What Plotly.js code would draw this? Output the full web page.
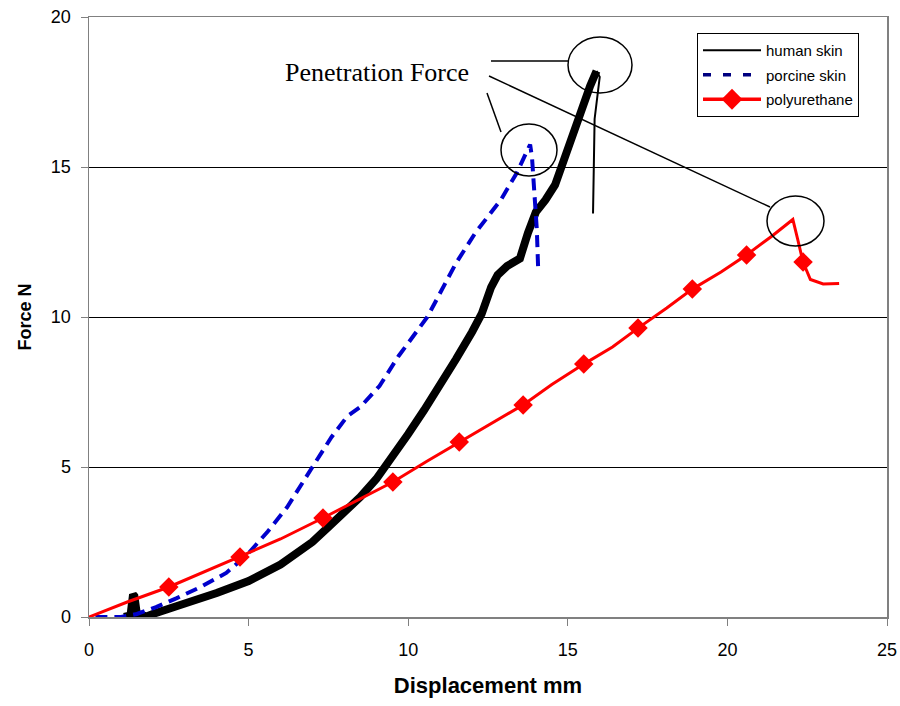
<!DOCTYPE html>
<html>
<head>
<meta charset="utf-8">
<script src="https://cdn.plot.ly/plotly-3.0.1.min.js"></script>
<style>html,body{margin:0;padding:0;background:#fff}#chart{width:900px;height:706px}</style>
</head>
<body>
<div id="chart"></div>
<script>
// Human skin (mm, N)
const humanX = [1.1, 1.3, 1.38, 1.42, 1.5, 1.8, 2.0, 2.5, 3.0, 4.0, 5.0, 6.0, 7.0, 7.5, 8.0, 8.5, 9.0, 9.5, 10.0, 10.5, 11.0, 11.5, 12.0, 12.3, 12.6, 12.8, 13.1, 13.5, 13.75, 14.0, 14.3, 14.6, 14.8, 15.1, 15.4, 15.7, 15.9];
const humanY = [0, 0.05, 0.75, 0.7, 0.1, 0.02, 0.1, 0.3, 0.45, 0.8, 1.2, 1.75, 2.5, 3.0, 3.5, 4.0, 4.6, 5.3, 6.1, 6.9, 7.7, 8.6, 9.5, 10.1, 11.0, 11.4, 11.7, 11.95, 12.8, 13.5, 13.9, 14.4, 15.0, 16.0, 16.8, 17.7, 18.2];
// Human skin drop after penetration
const humanDropX = [15.9, 16.0, 15.84, 15.79];
const humanDropY = [18.2, 18.0, 16.6, 13.45];
// Porcine skin
const porcineX = [0.2, 0.5, 1.0, 1.5, 2.1, 2.75, 3.5, 4.3, 4.95, 5.6, 6.2, 7.0, 7.6, 8.1, 8.5, 9.1, 9.7, 10.6, 11.5, 12.1, 12.9, 13.4, 13.7, 13.82, 13.88, 13.97, 14.03, 14.07];
const porcineY = [0, 0, 0, 0.1, 0.33, 0.63, 1.0, 1.47, 2.07, 2.85, 3.65, 5.0, 6.0, 6.7, 7.0, 7.7, 8.7, 10.0, 11.8, 12.8, 13.9, 14.8, 15.5, 15.75, 15.3, 13.8, 12.9, 11.65];
// Polyurethane
const polyX = [0, 1.2, 2.5, 3.6, 4.73, 6.0, 7.33, 8.4, 9.52, 10.6, 11.6, 12.6, 13.6, 14.5, 15.5, 16.4, 17.2, 18.1, 18.9, 19.8, 20.6, 21.4, 22.05, 22.2, 22.37, 22.6, 23.0, 23.5];
const polyY = [0, 0.5, 1.0, 1.5, 2.0, 2.6, 3.3, 3.9, 4.5, 5.2, 5.83, 6.45, 7.07, 7.75, 8.43, 9.0, 9.63, 10.3, 10.93, 11.5, 12.07, 12.7, 13.25, 12.6, 11.83, 11.25, 11.1, 11.12];
const polyMarker = [0, 0, 1, 0, 1, 0, 1, 0, 1, 0, 1, 0, 1, 0, 1, 0, 1, 0, 1, 0, 1, 0, 0, 0, 1, 0, 0, 0];

const seriesNames = ['human skin', 'porcine skin', 'polyurethane'];
const xTicks = [0, 5, 10, 15, 20, 25];
const yTicks = [0, 5, 10, 15, 20];
const annotationText = 'Penetration Force';

const traces = [
  {x: humanX, y: humanY, name: seriesNames[0], mode: 'lines', showlegend: false,
   line: {color: '#000000', width: 8}},
  {x: humanDropX, y: humanDropY, mode: 'lines', showlegend: false,
   line: {color: '#000000', width: 2}},
  {x: porcineX, y: porcineY, name: seriesNames[1], mode: 'lines', showlegend: false,
   line: {color: '#0000cc', width: 4, dash: '12px,7px'}},
  {x: polyX, y: polyY, name: seriesNames[2], mode: 'lines+markers', showlegend: false,
   line: {color: '#ff0000', width: 3},
   marker: {symbol: 'diamond', color: '#ff0000', opacity: 1, size: polyMarker.map(m => m ? 15 : 0), line: {width: 0}}},
  // legend entries
  {x: [null], y: [null], name: seriesNames[0], mode: 'lines', legendgroup: 'a',
   line: {color: '#000000', width: 2}},
  {x: [null], y: [null], name: seriesNames[1], mode: 'lines', legendgroup: 'b',
   line: {color: '#000080', width: 3.5, dash: '8px,12px'}},
  {x: [null], y: [null], name: seriesNames[2], mode: 'lines+markers', legendgroup: 'c',
   line: {color: '#ff0000', width: 3.5},
   marker: {symbol: 'diamond', color: '#ff0000', opacity: 1, size: 16, line: {width: 0}}}
];

const px = v => (v - 89) / 31.92;
const py = v => (617 - v) / 30;

const layout = {
  width: 900, height: 706,
  margin: {l: 89, r: 13, t: 17, b: 89},
  paper_bgcolor: '#ffffff', plot_bgcolor: '#ffffff',
  font: {family: '"Liberation Sans", Arial, sans-serif', color: '#000'},
  showlegend: true,
  legend: {
    x: (697 - 89) / 798, y: (617 - 33) / 600, xanchor: 'left', yanchor: 'top',
    bgcolor: '#ffffff', bordercolor: '#000000', borderwidth: 1,
    font: {size: 15, color: '#000'}, itemwidth: 58, tracegroupgap: 2, traceorder: 'grouped'
  },
  xaxis: {
    range: [0, 25], tickvals: xTicks, ticktext: xTicks.map(String),
    showgrid: false, zeroline: false, showline: true, linecolor: '#808080', linewidth: 1.5, mirror: true,
    ticks: 'outside', ticklen: 7, tickcolor: '#808080', tickfont: {size: 18},
    ticklabelstandoff: 9,
    title: {text: 'Displacement mm', font: {size: 22, weight: 'bold'}, standoff: 18}
  },
  yaxis: {
    range: [0, 20], tickvals: yTicks, ticktext: yTicks.map(String),
    showgrid: true, gridcolor: '#000000', gridwidth: 1, zeroline: false,
    showline: true, linecolor: '#808080', linewidth: 1.5, mirror: true,
    ticks: 'outside', ticklen: 7, tickcolor: '#808080', tickfont: {size: 18},
    ticklabelstandoff: 6,
    title: {text: 'Force N', font: {size: 18, weight: 'bold'}, standoff: 14}
  },
  shapes: [
    {type: 'circle', xref: 'x', yref: 'y', x0: px(568), x1: px(632), y0: py(93), y1: py(37), line: {color: '#000', width: 1.5}},
    {type: 'circle', xref: 'x', yref: 'y', x0: px(501), x1: px(557), y0: py(176), y1: py(124), line: {color: '#000', width: 1.5}},
    {type: 'circle', xref: 'x', yref: 'y', x0: px(767), x1: px(824), y0: py(246), y1: py(196), line: {color: '#000', width: 1.5}},
    {type: 'line', xref: 'x', yref: 'y', x0: px(491), x1: px(568), y0: py(61), y1: py(61), line: {color: '#000', width: 1.5}},
    {type: 'line', xref: 'x', yref: 'y', x0: px(489), x1: px(770), y0: py(76), y1: py(207), line: {color: '#000', width: 1.5}},
    {type: 'line', xref: 'x', yref: 'y', x0: px(487), x1: px(501), y0: py(93), y1: py(132), line: {color: '#000', width: 1.5}}
  ],
  annotations: [
    {x: px(377), y: py(72), xref: 'x', yref: 'y', text: annotationText, showarrow: false,
     font: {family: '"Liberation Serif", "Times New Roman", serif', size: 26, color: '#000'}}
  ]
};

Plotly.newPlot('chart', traces, layout, {displayModeBar: false, staticPlot: true});
</script>
</body>
</html>
